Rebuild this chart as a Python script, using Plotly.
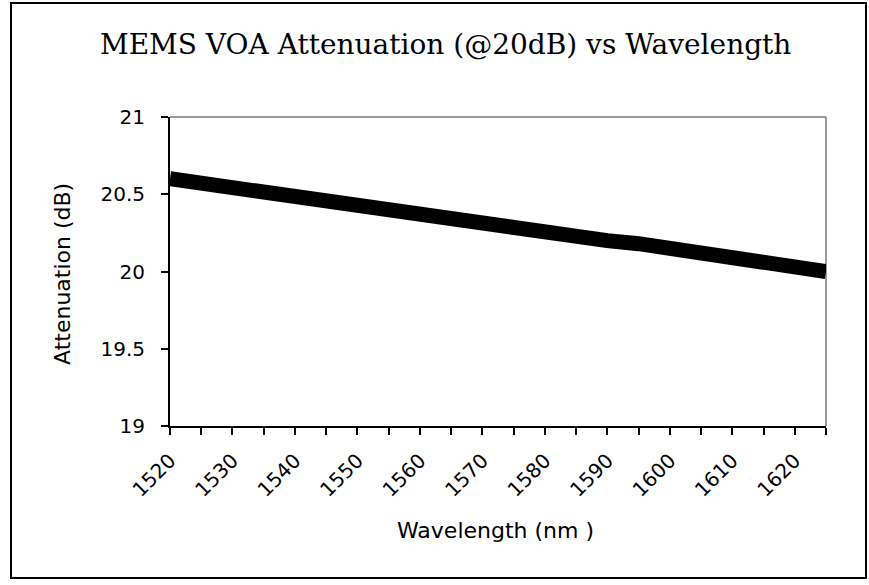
import plotly.graph_objects as go

# Data
wavelength_nm = [1520, 1525, 1530, 1535, 1540, 1545, 1550, 1555, 1560, 1565, 1570,
                 1575, 1580, 1585, 1590, 1595, 1600, 1605, 1610, 1615, 1620, 1625]
attenuation_db = [20.60, 20.57, 20.54, 20.51, 20.49, 20.46, 20.43, 20.40, 20.37, 20.35, 20.32,
                  20.29, 20.26, 20.23, 20.20, 20.18, 20.15, 20.12, 20.09, 20.06, 20.03, 20.00]
x_tick_vals = wavelength_nm
x_tick_text = ["1520", "", "1530", "", "1540", "", "1550", "", "1560", "", "1570",
               "", "1580", "", "1590", "", "1600", "", "1610", "", "1620", ""]
y_tick_vals = [19, 19.5, 20, 20.5, 21]
y_tick_text = ["19", "19.5", "20", "20.5", "21"]

title_text = "MEMS VOA Attenuation (@20dB) vs Wavelength"
x_title = "Wavelength (nm )"
y_title = "Attenuation (dB)"

W, H = 869, 585
L, R, T, B = 170, 826, 117, 426
pw, ph = R - L, B - T

def px(x):
    return (x - L) / pw

def py(y):
    return (B - y) / ph

fig = go.Figure()
fig.add_trace(go.Scatter(
    x=wavelength_nm, y=attenuation_db, mode="lines",
    line=dict(color="black", width=15), showlegend=False, hoverinfo="skip",
))

fig.update_layout(
    width=W, height=H,
    margin=dict(l=L, r=W - R, t=T, b=H - B),
    paper_bgcolor="white", plot_bgcolor="white",
    xaxis=dict(
        range=[1520, 1625], tickmode="array", tickvals=x_tick_vals, ticktext=x_tick_text,
        tickangle=-45, ticks="outside", ticklen=7, tickwidth=2, tickcolor="black",
        showline=True, linecolor="black", linewidth=2, showgrid=False, zeroline=False,
        tickfont=dict(family="DejaVu Sans", size=20, color="black"), automargin=False,
        ticklabelstandoff=6,
    ),
    yaxis=dict(
        range=[19, 21], tickmode="array", tickvals=y_tick_vals, ticktext=y_tick_text,
        ticks="outside", ticklen=7, tickwidth=2, tickcolor="black",
        showline=True, linecolor="black", linewidth=2, showgrid=False, zeroline=False,
        tickfont=dict(family="DejaVu Sans", size=20, color="black"),
        ticklabelstandoff=12, automargin=False,
    ),
    annotations=[
        dict(text=title_text, x=px(445), y=py(44), xref="paper", yref="paper",
             xanchor="center", yanchor="middle", showarrow=False,
             font=dict(family="DejaVu Serif", size=28, color="black")),
        dict(text=x_title, x=px(495), y=py(530), xref="paper", yref="paper",
             xanchor="center", yanchor="middle", showarrow=False,
             font=dict(family="DejaVu Sans", size=22, color="black")),
        dict(text=y_title, x=px(62), y=py(274), xref="paper", yref="paper",
             xanchor="center", yanchor="middle", showarrow=False, textangle=-90,
             font=dict(family="DejaVu Sans", size=22, color="black")),
    ],
    shapes=[
        # gray top/right plot border
        dict(type="line", xref="paper", yref="paper", x0=0, x1=1, y0=1, y1=1,
             line=dict(color="#9a9a9a", width=2), layer="below"),
        dict(type="line", xref="paper", yref="paper", x0=1, x1=1, y0=0, y1=1,
             line=dict(color="#9a9a9a", width=2), layer="below"),
        # outer chart border
        dict(type="rect", xref="paper", yref="paper",
             x0=px(11), x1=px(866), y0=py(578), y1=py(3),
             line=dict(color="black", width=2), fillcolor="rgba(0,0,0,0)", layer="above"),
    ],
)

fig.write_html("out.html", config={"displayModeBar": False},
               post_script="document.body.style.margin='0';document.body.style.overflow='hidden';")
